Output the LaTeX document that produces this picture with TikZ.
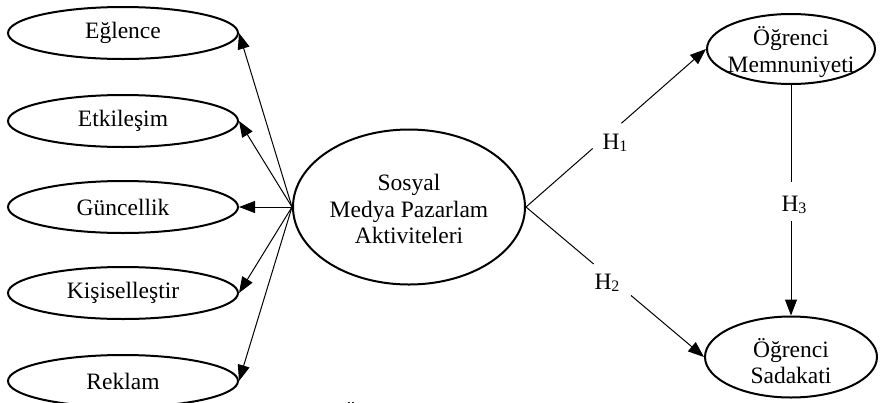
\documentclass[tikz,border=0pt]{standalone}
\usepackage{fontspec}
\setmainfont{Liberation Serif}
\usetikzlibrary{shapes.geometric,arrows.meta,calc}
\newcommand{\hsub}[1]{\raisebox{-0.15ex}{\fontsize{16}{16}\selectfont #1}}
\begin{document}
\begin{tikzpicture}[x=1pt,y=-1pt,
 ell/.style={draw,ellipse,line width=2pt,inner sep=0pt},
 lft/.style={ell,minimum width=230pt,minimum height=52pt,font=\fontsize{23.5}{26.5}\selectfont},
 txt/.style={font=\fontsize{23.5}{26.5}\selectfont,align=center,inner sep=0pt},
 arr/.style={line width=1pt,-{Triangle[length=16pt,width=12pt]}},
 seg/.style={line width=1pt}]
\useasboundingbox (0,0) rectangle (880,402);
% left ellipses
\node[lft] (e1) at (123,33) {Eğlence};
\node[lft] (e2) at (123,121) {Etkileşim};
\node[lft] (e3) at (123,207) {Güncellik};
\node[lft] (e4) at (123,293) {Kişiselleştir};
\node[lft] (e5) at (123,381) {Reklam};
% central
\node[ell,minimum width=232pt,minimum height=155pt] (c) at (409,207) {};
\node[txt] (ct) at (409,209) {Sosyal\\Medya Pazarlam\\Aktiviteleri};
% right
\node[ell,minimum width=168pt,minimum height=70pt] (m) at (791,49) {};
\node[txt] (mt) at (791,52) {Öğrenci\\Memnuniyeti};
\node[ell,minimum width=172pt,minimum height=81pt] (s) at (791,357) {};
\node[txt] (st) at (791,361) {Öğrenci\\Sadakati};
% left arrows
\foreach \i in {1,...,5} \draw[arr] (c.west) -- (e\i.east);
% H1
\draw[seg] (c.east) -- ($(c.east)!0.37!(m.west)$);
\draw[arr] ($(c.east)!0.53!(m.west)$) -- (m.west);
\node[txt] (h1) at (615,143) {H\hsub{1}};
% H2
\draw[seg] (c.east) -- ($(c.east)!0.38!(s.west)$);
\draw[arr] ($(c.east)!0.59!(s.west)$) -- (s.west);
\node[txt] (h2) at (607,283) {H\hsub{2}};
% H3
\draw[seg] (m.south) -- ($(m.south)!0.42!(s.north)$);
\draw[arr] ($(m.south)!0.59!(s.north)$) -- (s.north);
\node[txt] (h3) at (794,205) {H\hsub{3}};
% cut-off caption fragment
\begin{scope}
\clip (0,0) rectangle (880,402);
\node[txt,anchor=base] (cap) at (351,421) {Ö};
\end{scope}
\end{tikzpicture}
\end{document}
